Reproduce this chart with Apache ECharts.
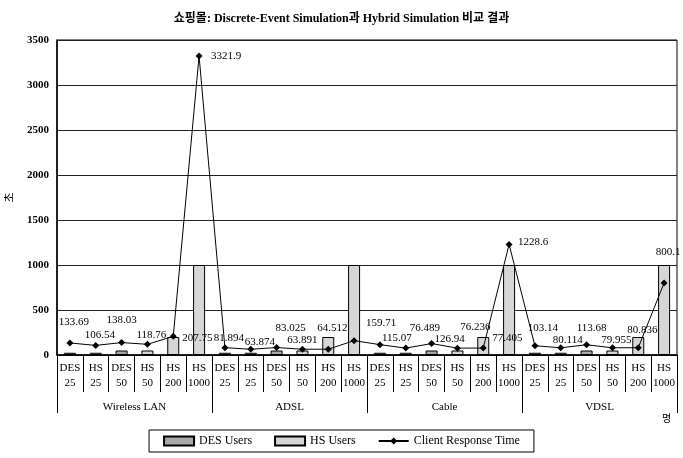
<!DOCTYPE html>
<html>
<head>
<meta charset="utf-8">
<script src="https://cdn.jsdelivr.net/npm/echarts@6/dist/echarts.min.js"></script>
<style>
html,body{margin:0;padding:0;background:#fff;}
#c{width:683px;height:458px;}
</style>
</head>
<body>
<div id="c"></div>
<script>
var groups = ['Wireless LAN', 'ADSL', 'Cable', 'VDSL'];
var simTypes = ['DES', 'HS', 'DES', 'HS', 'HS', 'HS'];
var userCounts = ['25', '25', '50', '50', '200', '1000'];
var desUsers = [25, null, 50, null, null, null,
                25, null, 50, null, null, null,
                25, null, 50, null, null, null,
                25, null, 50, null, null, null];
var hsUsers = [null, 25, null, 50, 200, 1000,
               null, 25, null, 50, 200, 1000,
               null, 25, null, 50, 200, 1000,
               null, 25, null, 50, 200, 1000];
var responseTime = [133.69, 106.54, 138.03, 118.76, 207.75, 3321.9,
                    81.894, 63.874, 83.025, 63.891, 64.512, 159.71,
                    115.07, 76.489, 126.94, 76.236, 77.405, 1228.6,
                    103.14, 80.114, 113.68, 79.955, 80.836, 800.1];
var yTicks = [0, 500, 1000, 1500, 2000, 2500, 3000, 3500];

var categories = [];
groups.forEach(function () {
  for (var i = 0; i < simTypes.length; i++) categories.push(simTypes[i] + '\n' + userCounts[i]);
});

var serif = '"Liberation Serif", "Times New Roman", "Noto Sans CJK KR", serif';
// label placement (style only): offsets of label centre from its point
var labelOffsets = [[4,-21],[4,-10],[0,-22],[4,-9],[24,2],[27,0],
                    [4,-10],[9,-7],[14,-19],[0,-9],[4,-21],[27,-18],
                    [17,-7],[19,-20],[18,-4],[18,-21],[24,-10],[24,-2],
                    [8,-18],[7,-8],[5,-17],[4,-8],[4,-18],[4,-31]];

var chart = echarts.init(document.getElementById('c'));
chart.setOption({
  animation: false,
  backgroundColor: '#fff',
  title: {
    text: '쇼핑몰: Discrete-Event Simulation과 Hybrid Simulation 비교 결과',
    left: 'center', top: 8,
    textStyle: {fontFamily: serif, fontSize: 12, fontWeight: 'bold', color: '#000'}
  },
  grid: {left: 57, right: 6, top: 40, bottom: 103, containLabel: false, outerBoundsMode: 'none',
    show: true, borderColor: '#000', borderWidth: 1},
  legend: {
    bottom: 6, left: 'center',
    borderColor: '#000', borderWidth: 1, padding: [5, 14],
    itemWidth: 30, itemHeight: 9, itemGap: 22,
    textStyle: {fontFamily: serif, fontSize: 12, color: '#000'},
    data: [{name: 'DES Users', icon: 'rect'}, {name: 'HS Users', icon: 'rect'}, 'Client Response Time']
  },
  xAxis: [{
    type: 'category', data: categories, position: 'bottom',
    axisLine: {lineStyle: {color: '#000', width: 1.5}},
    axisTick: {show: true, interval: 0, length: 37, lineStyle: {color: '#000'}},
    axisLabel: {interval: 0, margin: 6, fontFamily: serif, fontSize: 11, color: '#000', lineHeight: 15}
  }, {
    type: 'category', data: groups, position: 'bottom',
    axisLine: {show: false},
    axisTick: {show: true, interval: 0, length: 58, lineStyle: {color: '#000'}},
    axisLabel: {interval: 0, margin: 47, fontFamily: serif, fontSize: 11, color: '#000'}
  }],
  yAxis: {
    type: 'value', min: yTicks[0], max: yTicks[yTicks.length - 1], interval: yTicks[1] - yTicks[0],
    name: '초', nameLocation: 'middle', nameGap: 33, nameRotate: 90,
    nameTextStyle: {fontFamily: serif, fontSize: 11, color: '#000'},
    axisLine: {show: true, lineStyle: {color: '#000', width: 1.5}},
    axisTick: {show: false},
    axisLabel: {fontFamily: serif, fontSize: 11, color: '#000', fontWeight: 'bold', margin: 8,
      formatter: function (v) { return String(v); }},
    splitLine: {lineStyle: {color: '#222', width: 1}}
  },
  graphic: [{
    type: 'text', left: 662, top: 413,
    style: {text: '명', font: '10px "Noto Sans CJK KR"', fill: '#000'}
  }],
  series: [{
    name: 'DES Users', type: 'bar', data: desUsers, barWidth: 12, barGap: '-100%',
    itemStyle: {color: '#a9a9a9', borderColor: '#000', borderWidth: 1}
  }, {
    name: 'HS Users', type: 'bar', data: hsUsers, barWidth: 12,
    itemStyle: {color: '#d6d6d6', borderColor: '#000', borderWidth: 1}
  }, {
    name: 'Client Response Time', type: 'line', data: responseTime,
    symbol: 'diamond', symbolSize: 7,
    lineStyle: {color: '#000', width: 1},
    itemStyle: {color: '#000'},
    label: {show: true, position: 'inside', fontFamily: serif, fontSize: 11, color: '#000'},
    labelLayout: function (params) {
      var o = labelOffsets[params.dataIndex] || [0, -12];
      return {dx: o[0], dy: o[1], hideOverlap: false};
    },
    z: 5
  }]
});
</script>
</body>
</html>
